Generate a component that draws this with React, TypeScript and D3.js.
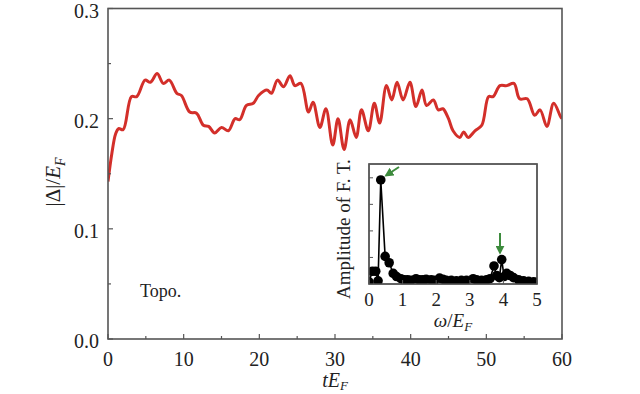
import React from "react";
import * as d3 from "d3";

const tValues = [0, 0.5, 1.0, 1.4, 2.0, 3.1, 3.8, 4.9, 5.6, 6.5, 7.3, 8.1, 9.1, 9.7, 10.8, 11.7, 12.6, 13.3, 14.1, 15.0, 15.9, 16.8, 17.4, 18.3, 19.2, 19.9, 21.0, 21.6, 22.4, 23.2, 24.05, 24.7, 25.5, 26.5, 27.1, 28.0, 28.8, 29.7, 30.4, 31.2, 32.0, 32.8, 33.5, 34.4, 35.2, 35.9, 36.8, 37.5, 38.2, 39.0, 39.9, 40.7, 41.5, 42.1, 43.0, 43.65, 44.25, 45.0, 45.6, 46.5, 47.0, 47.6, 48.5, 49.4, 50.3, 50.9, 51.8, 52.7, 53.65, 54.4, 55.4, 56.4, 57.1, 58.0, 58.9, 59.8, 60];
const gapValues = [0.143, 0.168, 0.186, 0.191, 0.19, 0.22, 0.22, 0.235, 0.233, 0.241, 0.232, 0.235, 0.223, 0.221, 0.206, 0.205, 0.194, 0.193, 0.187, 0.192, 0.189, 0.2, 0.199, 0.212, 0.214, 0.221, 0.226, 0.223, 0.235, 0.229, 0.239, 0.23, 0.232, 0.206, 0.215, 0.192, 0.209, 0.176, 0.2, 0.172, 0.199, 0.183, 0.208, 0.189, 0.214, 0.196, 0.23, 0.217, 0.233, 0.217, 0.233, 0.211, 0.226, 0.212, 0.217, 0.208, 0.209, 0.2, 0.189, 0.183, 0.188, 0.183, 0.189, 0.194, 0.22, 0.22, 0.23, 0.23, 0.232, 0.218, 0.218, 0.203, 0.208, 0.193, 0.214, 0.202, 0.2];

const omegaValues = [0.0, 0.1, 0.2, 0.27, 0.35, 0.48, 0.6, 0.72, 0.82, 0.95, 1.05, 1.15, 1.25, 1.4, 1.5, 1.6, 1.7, 1.85, 1.95, 2.1, 2.2, 2.3, 2.45, 2.6, 2.75, 2.9, 3.1, 3.2, 3.35, 3.5, 3.6, 3.72, 3.8, 3.88, 3.95, 4.02, 4.1, 4.2, 4.3, 4.45, 4.6, 4.75, 4.9, 5.0];
const ampValues = [0.02, 0.12, 0.12, 0.03, 0.98, 0.26, 0.2, 0.1, 0.07, 0.05, 0.04, 0.04, 0.035, 0.05, 0.04, 0.04, 0.045, 0.04, 0.035, 0.055, 0.045, 0.035, 0.035, 0.03, 0.035, 0.035, 0.05, 0.04, 0.035, 0.04, 0.05, 0.17, 0.08, 0.06, 0.23, 0.07, 0.1, 0.08, 0.06, 0.04, 0.03, 0.025, 0.02, 0.015];

const mainXTicks = [0, 10, 20, 30, 40, 50, 60];
const mainXMinor = [5, 15, 25, 35, 45, 55];
const mainYTicks = [0.0, 0.1, 0.2, 0.3];
const mainYMinor = [0.05, 0.15, 0.25];
const insetXTicks = [0, 1, 2, 3, 4, 5];
const insetYTicks = [0.25, 0.5, 0.75, 1.0];

const W = 640;
const H = 394;
const FONT = "'Liberation Serif', 'DejaVu Serif', serif";

export default function App() {
  const x = d3.scaleLinear().domain([0, 60]).range([108, 562]);
  const y = d3.scaleLinear().domain([0, 0.3]).range([339, 8.5]);
  const ix = d3.scaleLinear().domain([0, 5]).range([369, 537]);
  const iy = d3.scaleLinear().domain([0, 1.13]).range([284, 164]);

  const mainData = tValues.map((t, i) => [t, gapValues[i]] as [number, number]);
  const line = d3
    .line<[number, number]>()
    .x((d) => x(d[0]))
    .y((d) => y(d[1]))
    .curve(d3.curveCatmullRom.alpha(0.5));

  const insetData = omegaValues.map((w, i) => [w, ampValues[i]] as [number, number]);
  const iline = d3
    .line<[number, number]>()
    .x((d) => ix(d[0]))
    .y((d) => iy(d[1]));

  const axisColor = "#555";

  return (
    <svg width={W} height={H} style={{ display: "block", position: "absolute", left: 0, top: 0 }} fontFamily={FONT}>
      <rect x={0} y={0} width={W} height={H} fill="#fff" />
      <defs>
        <clipPath id="mainclip">
          <rect x={108} y={8.5} width={454} height={330.5} />
        </clipPath>
        <clipPath id="insetclip">
          <rect x={369} y={164} width={168} height={120} />
        </clipPath>
        <marker id="arrow" viewBox="0 0 10 10" refX="8" refY="5" markerWidth="4.5" markerHeight="4.5" orient="auto">
          <path d="M0,0 L10,5 L0,10 z" fill="#3d8b3d" />
        </marker>
      </defs>

      {/* main curve */}
      <path d={line(mainData) || ""} fill="none" stroke="#d32f2a" strokeWidth={3} clipPath="url(#mainclip)" strokeLinejoin="round" />

      {/* main frame */}
      <rect x={108} y={8.5} width={454} height={330.5} fill="none" stroke={axisColor} strokeWidth={1.6} />

      {mainXTicks.map((t) => (
        <g key={"mx" + t}>
          <line x1={x(t)} x2={x(t)} y1={339} y2={334} stroke={axisColor} strokeWidth={1.2} />
          <text x={x(t)} y={366} fontSize={20} textAnchor="middle" fill="#222">{t}</text>
        </g>
      ))}
      {mainXMinor.map((t) => (
        <line key={"mxm" + t} x1={x(t)} x2={x(t)} y1={339} y2={336} stroke={axisColor} strokeWidth={1.2} />
      ))}
      {mainYTicks.map((v) => (
        <g key={"my" + v}>
          <line x1={108} x2={113} y1={y(v)} y2={y(v)} stroke={axisColor} strokeWidth={1.2} />
          <text x={99} y={y(v) + 9} fontSize={20} textAnchor="end" fill="#222">{v.toFixed(1)}</text>
        </g>
      ))}
      {mainYMinor.map((v) => (
        <line key={"mym" + v} x1={108} x2={111} y1={y(v)} y2={y(v)} stroke={axisColor} strokeWidth={1.2} />
      ))}

      {/* axis titles */}
      <text x={335} y={387} fontSize={20} textAnchor="middle" fill="#222">
        <tspan fontStyle="italic">tE</tspan>
        <tspan fontStyle="italic" fontSize={13} dy={3}>F</tspan>
      </text>
      <text transform="translate(60,182) rotate(-90)" fontSize={21} textAnchor="middle" fill="#222">
        <tspan>|Δ|/</tspan>
        <tspan fontStyle="italic">E</tspan>
        <tspan fontStyle="italic" fontSize={14} dy={5}>F</tspan>
      </text>

      <text x={140} y={297} fontSize={18} fill="#222">Topo.</text>

      {/* inset */}
      <rect x={369} y={164} width={168} height={120} fill="#fff" stroke={axisColor} strokeWidth={1.4} />
      <g clipPath="url(#insetclip)">
        <path d={iline(insetData) || ""} fill="none" stroke="#000" strokeWidth={1.6} />
        {insetData.map((d, i) => (
          <circle key={"c" + i} cx={ix(d[0])} cy={iy(d[1])} r={4.8} fill="#000" />
        ))}
      </g>
      <rect x={369} y={164} width={168} height={120} fill="none" stroke={axisColor} strokeWidth={1.4} />
      {insetXTicks.map((t) => (
        <g key={"ix" + t}>
          <line x1={ix(t)} x2={ix(t)} y1={284} y2={280} stroke={axisColor} strokeWidth={1} />
          <text x={ix(t)} y={306} fontSize={19} textAnchor="middle" fill="#222">{t}</text>
        </g>
      ))}
      {insetYTicks.map((v) => (
        <line key={"iy" + v} x1={369} x2={373} y1={iy(v)} y2={iy(v)} stroke={axisColor} strokeWidth={1} />
      ))}
      <text x={453} y={327} fontSize={19} textAnchor="middle" fill="#222">
        <tspan fontStyle="italic">ω</tspan>
        <tspan>/</tspan>
        <tspan fontStyle="italic">E</tspan>
        <tspan fontStyle="italic" fontSize={13} dy={4}>F</tspan>
      </text>
      <text transform="translate(350,229) rotate(-90)" fontSize={19} textAnchor="middle" fill="#222">Amplitude of F. T.</text>

      {/* green arrows */}
      <line x1={399} y1={167} x2={386} y2={175.5} stroke="#3d8b3d" strokeWidth={2} markerEnd="url(#arrow)" />
      <line x1={500} y1={233} x2={500} y2={253} stroke="#3d8b3d" strokeWidth={2} markerEnd="url(#arrow)" />
    </svg>
  );
}
